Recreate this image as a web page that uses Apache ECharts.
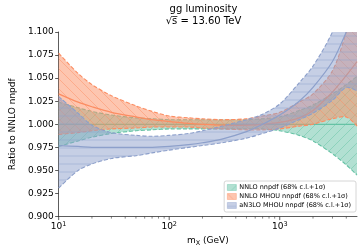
<!DOCTYPE html>
<html><head><meta charset="utf-8">
<script src="https://cdn.jsdelivr.net/npm/echarts@6/dist/echarts.min.js"></script>
<style>html,body{margin:0;padding:0;background:#fff}#c{width:362px;height:252px}</style>
</head><body><div id="c"></div>
<script>
// ---- data ----
const masses = [10, 15, 20, 30, 50, 70, 100, 150, 200, 300, 500, 700, 1000, 1500, 2000, 3000, 4000, 5000];

const nnloCentral = [1.000, 1.000, 1.000, 1.000, 1.000, 1.000, 1.000, 1.000, 1.000, 1.000, 1.000, 1.000, 1.000, 1.000, 1.000, 1.000, 1.000, 1.000];
const nnloUpper   = [1.024, 1.018, 1.014, 1.010, 1.007, 1.006, 1.005, 1.005, 1.005, 1.005, 1.005, 1.006, 1.008, 1.015, 1.021, 1.033, 1.043, 1.052];
const nnloLower   = [0.976, 0.982, 0.986, 0.990, 0.993, 0.994, 0.995, 0.995, 0.995, 0.995, 0.995, 0.995, 0.993, 0.988, 0.982, 0.968, 0.956, 0.945];

const mhouCentral = [1.033, 1.024, 1.019, 1.013, 1.008, 1.005, 1.003, 1.001, 1.000, 0.999, 0.999, 1.000, 1.002, 1.007, 1.015, 1.035, 1.053, 1.068];
const mhouUpper   = [1.077, 1.055, 1.043, 1.031, 1.020, 1.014, 1.009, 1.007, 1.006, 1.005, 1.006, 1.009, 1.013, 1.024, 1.033, 1.058, 1.100, 1.140];
const mhouLower   = [0.989, 0.991, 0.993, 0.995, 0.996, 0.997, 0.997, 0.997, 0.996, 0.995, 0.994, 0.994, 0.995, 0.998, 1.000, 1.006, 1.008, 0.998];

const n3loCentral = [0.977, 0.976, 0.975, 0.975, 0.975, 0.975, 0.976, 0.978, 0.980, 0.984, 0.992, 1.000, 1.010, 1.025, 1.040, 1.068, 1.100, 1.130];
const n3loUpper   = [1.030, 1.012, 0.999, 0.991, 0.988, 0.987, 0.988, 0.990, 0.993, 0.998, 1.005, 1.011, 1.022, 1.045, 1.063, 1.100, 1.140, 1.180];
const n3loLower   = [0.931, 0.950, 0.957, 0.963, 0.966, 0.969, 0.972, 0.975, 0.977, 0.980, 0.985, 0.990, 0.996, 1.005, 1.012, 1.026, 1.040, 1.036];

const majorTicks = [10, 100, 1000];
const minorTicks = [20, 30, 40, 50, 60, 70, 80, 90, 200, 300, 400, 500, 600, 700, 800, 900, 2000, 3000, 4000];
const yTicks = { min: 0.9, max: 1.1, step: 0.025 };
const labels = ['NNLO nnpdf (68% c.l.+1σ)', 'NNLO MHOU nnpdf (68% c.l.+1σ)', 'aN3LO MHOU nnpdf (68% c.l.+1σ)'];
const colors = ['#66c2a5', '#fc8d62', '#8da0cb'];

// ---- hatch patterns ----
function rgba(hex, a) {
  const n = parseInt(hex.slice(1), 16);
  return 'rgba(' + (n >> 16) + ',' + ((n >> 8) & 255) + ',' + (n & 255) + ',' + a + ')';
}
function hatch(color, kind) {
  const s = kind === '-' ? 8 : 10;
  const c = document.createElement('canvas');
  c.width = s; c.height = s;
  const g = c.getContext('2d');
  g.fillStyle = rgba(color, 0.5);
  g.fillRect(0, 0, s, s);
  g.strokeStyle = rgba(color, 0.8);
  g.lineWidth = 0.6;
  g.beginPath();
  if (kind === '/') {
    g.moveTo(0, s); g.lineTo(s, 0);
    g.moveTo(-2, 2); g.lineTo(2, -2);
    g.moveTo(s - 2, s + 2); g.lineTo(s + 2, s - 2);
  } else if (kind === '\\') {
    g.moveTo(0, 0); g.lineTo(s, s);
    g.moveTo(s - 2, -2); g.lineTo(s + 2, 2);
    g.moveTo(-2, s - 2); g.lineTo(2, s + 2);
  } else {
    g.moveTo(0, s / 2); g.lineTo(s, s / 2);
  }
  g.stroke();
  return { image: c, repeat: 'repeat' };
}
const pats = [hatch(colors[0], '/'), hatch(colors[1], '\\'), hatch(colors[2], '-')];

function bandSeries(name, lower, upper, central, color, pat, z) {
  return {
    type: 'custom', name: name, coordinateSystem: 'cartesian2d', clip: true, z: z, silent: true,
    itemStyle: { color: pat },
    data: [[masses[0], central[0]]],
    renderItem: function (params, api) {
      const up = masses.map((m, i) => api.coord([m, upper[i]]));
      const lo = masses.map((m, i) => api.coord([m, lower[i]]));
      const ce = masses.map((m, i) => api.coord([m, central[i]]));
      const n = up.length;
      const poly = up.concat([up[n - 1]], [lo[n - 1]], lo.slice().reverse(), [lo[0]], [up[0]]);
      const sm = 0.3;
      return {
        type: 'group',
        children: [
          { type: 'polygon', shape: { points: poly, smooth: sm }, style: { fill: pat, stroke: null } },
          { type: 'polyline', shape: { points: up, smooth: sm }, style: { stroke: color, lineWidth: 1.1, lineDash: [4, 2], fill: null } },
          { type: 'polyline', shape: { points: lo, smooth: sm }, style: { stroke: color, lineWidth: 1.1, lineDash: [4, 2], fill: null } },
          { type: 'polyline', shape: { points: ce, smooth: sm }, style: { stroke: color, lineWidth: 1.2, fill: null } }
        ]
      };
    }
  };
}

function tickSeries(values, len, width) {
  return {
    type: 'custom', coordinateSystem: 'cartesian2d', clip: false, silent: true, z: 10,
    data: values.map(v => [v, yTicks.min]),
    renderItem: function (params, api) {
      const p = api.coord([api.value(0), api.value(1)]);
      return { type: 'line', shape: { x1: p[0], y1: p[1], x2: p[0], y2: p[1] + len }, style: { stroke: '#333', lineWidth: width } };
    }
  };
}

const chart = echarts.init(document.getElementById('c'), null, { renderer: 'canvas' });
const FONT = 'DejaVu Sans';
chart.setOption({
  animation: false,
  textStyle: { fontFamily: FONT },
  title: {
    text: 'gg luminosity\n\u221As\u0305 = 13.60 TeV',
    left: 203.5, top: 3, textAlign: 'center', padding: 0,
    textStyle: { fontFamily: FONT, fontSize: 10, fontWeight: 'normal', color: '#000', lineHeight: 12.5 }
  },
  grid: { left: 50, right: 5, top: 32, bottom: 33 },
  xAxis: {
    type: 'log', logBase: 10, min: 10, max: 5000,
    name: 'm{sub|X} (GeV)', nameLocation: 'middle', nameGap: 17,
    nameTextStyle: { fontFamily: FONT, fontSize: 9, color: '#000',
      rich: { sub: { fontFamily: FONT, fontSize: 6.5, padding: [5, 0, 0, 0], color: '#000' } } },
    axisLine: { show: true, lineStyle: { color: '#333', width: 0.8 } },
    axisTick: { show: false },
    splitLine: { show: false },
    axisLabel: {
      margin: 4, color: '#000',
      formatter: function (v) {
        const e = Math.log10(v);
        if (Math.abs(e - Math.round(e)) > 1e-6) return '';
        return '{b|10}{s|' + Math.round(e) + '}';
      },
      rich: {
        b: { fontFamily: FONT, fontSize: 9, color: '#000' },
        s: { fontFamily: FONT, fontSize: 6.5, color: '#000', padding: [0, 0, 6, 0] }
      }
    }
  },
  yAxis: {
    type: 'value', min: yTicks.min, max: yTicks.max, interval: yTicks.step,
    name: 'Ratio to NNLO nnpdf', nameLocation: 'middle', nameGap: 35,
    nameTextStyle: { fontFamily: FONT, fontSize: 9, color: '#000' },
    axisLine: { show: true, lineStyle: { color: '#333', width: 0.8 } },
    axisTick: { show: true, length: 3.5, lineStyle: { color: '#333', width: 0.8 } },
    splitLine: { show: false },
    axisLabel: { margin: 5, fontFamily: FONT, fontSize: 9, color: '#000',
      formatter: function (v) { return v.toFixed(3); } }
  },
  legend: {
    orient: 'vertical', right: 6, top: 181,
    padding: [3, 5, 3, 3], itemGap: 2, itemWidth: 9, itemHeight: 6, icon: 'rect',
    backgroundColor: 'rgba(255,255,255,0.85)', borderColor: '#cccccc', borderWidth: 0.8, borderRadius: 2,
    textStyle: { fontFamily: FONT, fontSize: 6.5, color: '#000', padding: [0, 0, 0, -2] },
    data: labels.map((l, i) => ({ name: l, itemStyle: { color: pats[i], borderColor: colors[i], borderWidth: 0.4 } }))
  },
  series: [
    bandSeries(labels[0], nnloLower, nnloUpper, nnloCentral, colors[0], pats[0], 2),
    bandSeries(labels[1], mhouLower, mhouUpper, mhouCentral, colors[1], pats[1], 3),
    bandSeries(labels[2], n3loLower, n3loUpper, n3loCentral, colors[2], pats[2], 4),
    tickSeries(majorTicks, 3.5, 0.8),
    tickSeries(minorTicks, 2, 0.6)
  ]
});
</script></body></html>
